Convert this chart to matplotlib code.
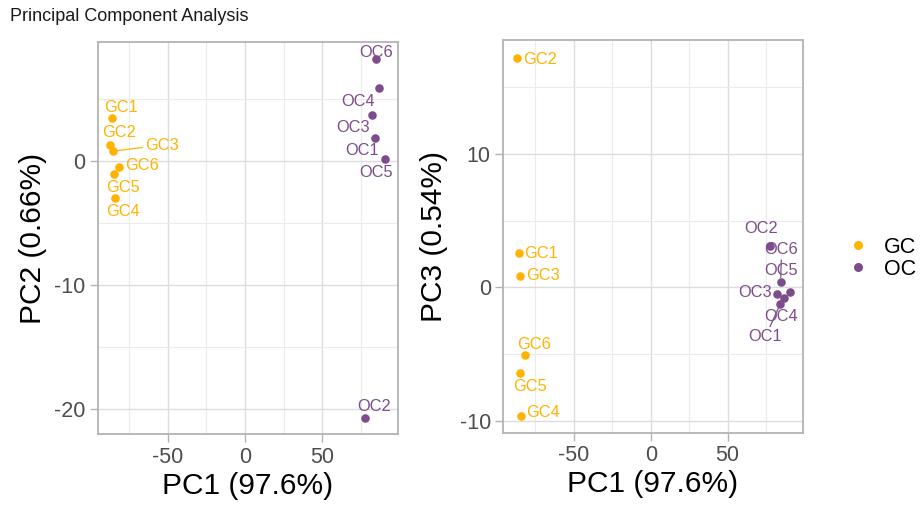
import matplotlib
matplotlib.use("Agg")
import matplotlib.pyplot as plt
from matplotlib.lines import Line2D

plt.rcParams['font.family'] = ['Liberation Sans', 'DejaVu Sans']
plt.rcParams['axes.unicode_minus'] = False

# ---- data ----
gc_names = ["GC1", "GC2", "GC3", "GC4", "GC5", "GC6"]
gc_pc1 = [-85.9, -87.0, -85.3, -84.2, -84.8, -81.6]
gc_pc2 = [3.44, 1.29, 0.81, -3.0, -1.05, -0.46]
gc_pc3 = [2.6, 17.2, 0.87, -9.63, -6.45, -5.08]

oc_names = ["OC1", "OC2", "OC3", "OC4", "OC5", "OC6"]
oc_pc1 = [84.3, 77.9, 82.4, 86.9, 90.3, 84.5]
oc_pc2 = [1.9, -20.7, 3.7, 5.86, 0.14, 8.2]
oc_pc3 = [-1.25, 3.1, -0.53, -0.83, -0.33, 0.42]

groups = ["GC", "OC"]
var_pc1, var_pc2, var_pc3 = 97.6, 0.66, 0.54

# ---- style / layout ----
col = {"GC": "#FFB300", "OC": "#7D4C8C"}
grid_major = "#DCDCDC"
grid_minor = "#EBEBEB"
frame = "#B3B3B3"

# label offsets in pixels (dx, dy up) and whether a connector is drawn
off_left = {
    "GC1": (9, 11, False), "GC2": (9, 13, False), "GC3": (49, 6, True),
    "GC4": (8, -13, False), "GC5": (9, -13, False), "GC6": (23, 1, False),
    "OC1": (-13, -13, False), "OC2": (9, 11, False), "OC3": (-19, -12, False),
    "OC4": (-21, -13, False), "OC5": (-8, -13, False), "OC6": (1, 7, False),
}
off_right = {
    "GC1": (22, -1, False), "GC2": (23, -2, False), "GC3": (23, 0, False),
    "GC4": (22, 3, False), "GC5": (10, -13, False), "GC6": (9, 11, False),
    "OC1": (-15, -33, True), "OC2": (-9, 17, False), "OC3": (-22, 2, False),
    "OC4": (-3, -18, False), "OC5": (-8, 21, False), "OC6": (1, 32, True),
}

fig = plt.figure(figsize=(9.21, 5.09), dpi=100)
ax1 = fig.add_axes([0.1064, 0.1473, 0.3257, 0.770])
ax2 = fig.add_axes([0.5465, 0.150, 0.3251, 0.7715])


def style(ax, xlim, ylim, xmaj, xmin, ymaj, ymin):
    ax.set_xlim(*xlim)
    ax.set_ylim(*ylim)
    ax.set_xticks(xmaj)
    ax.set_xticks(xmin, minor=True)
    ax.set_yticks(ymaj)
    ax.set_yticks(ymin, minor=True)
    ax.grid(True, which='major', color=grid_major, lw=1.0)
    ax.grid(True, which='minor', color=grid_minor, lw=0.8)
    ax.set_axisbelow(True)
    for s in ax.spines.values():
        s.set_color(frame)
        s.set_linewidth(1.3)
    ax.tick_params(which='major', length=5.5, width=1.0, color=frame,
                   labelsize=15.5, labelcolor="#4D4D4D", pad=3.5)
    ax.tick_params(which='minor', length=0)


def draw(ax, ycol_gc, ycol_oc, offsets):
    sets = [("GC", gc_names, gc_pc1, ycol_gc), ("OC", oc_names, oc_pc1, ycol_oc)]
    for g, names, xs, ys in sets:
        ax.scatter(xs, ys, s=38, color=col[g], zorder=3, linewidths=0)
        for n, x, y in zip(names, xs, ys):
            dx, dy, seg = offsets[n]
            arrow = None
            if seg:
                arrow = dict(arrowstyle='-', color=col[g], lw=0.9,
                             shrinkA=0, shrinkB=3)
            ax.annotate(n, xy=(x, y), xytext=(dx, dy), textcoords='offset pixels',
                        ha='center', va='center', fontsize=11.8, color=col[g],
                        arrowprops=arrow, zorder=4)


style(ax1, (-95, 99), (-22.0, 9.6), [-50, 0, 50], [-75, -25, 25, 75],
      [-20, -10, 0], [-15, -5, 5])
draw(ax1, gc_pc2, oc_pc2, off_left)
ax1.set_xlabel(f"PC1 ({var_pc1}%)", fontsize=21.5, labelpad=3)
ax1.set_ylabel(f"PC2 ({var_pc2}%)", fontsize=21.5, labelpad=5)

style(ax2, (-95.9, 98.9), (-10.9, 18.55), [-50, 0, 50], [-75, -25, 25, 75],
      [-10, 0, 10], [-5, 5, 15])
draw(ax2, gc_pc3, oc_pc3, off_right)
ax2.set_xlabel(f"PC1 ({var_pc1}%)", fontsize=21.5, labelpad=3)
ax2.set_ylabel(f"PC3 ({var_pc3}%)", fontsize=21.5, labelpad=8)

handles = [Line2D([], [], ls='none', marker='o', ms=6.5, color=col[g],
                  markeredgewidth=0) for g in groups]
fig.legend(handles, groups, loc='center left', bbox_to_anchor=(0.922, 0.493),
           frameon=False, fontsize=15.5, handlelength=0.8, handletextpad=0.8,
           labelspacing=0.05, borderaxespad=0, borderpad=0)

fig.text(0.011, 0.968, "Principal Component Analysis", fontsize=13,
         ha='left', va='center', color="#1A1A1A")

fig.savefig("out.png", dpi=100)
